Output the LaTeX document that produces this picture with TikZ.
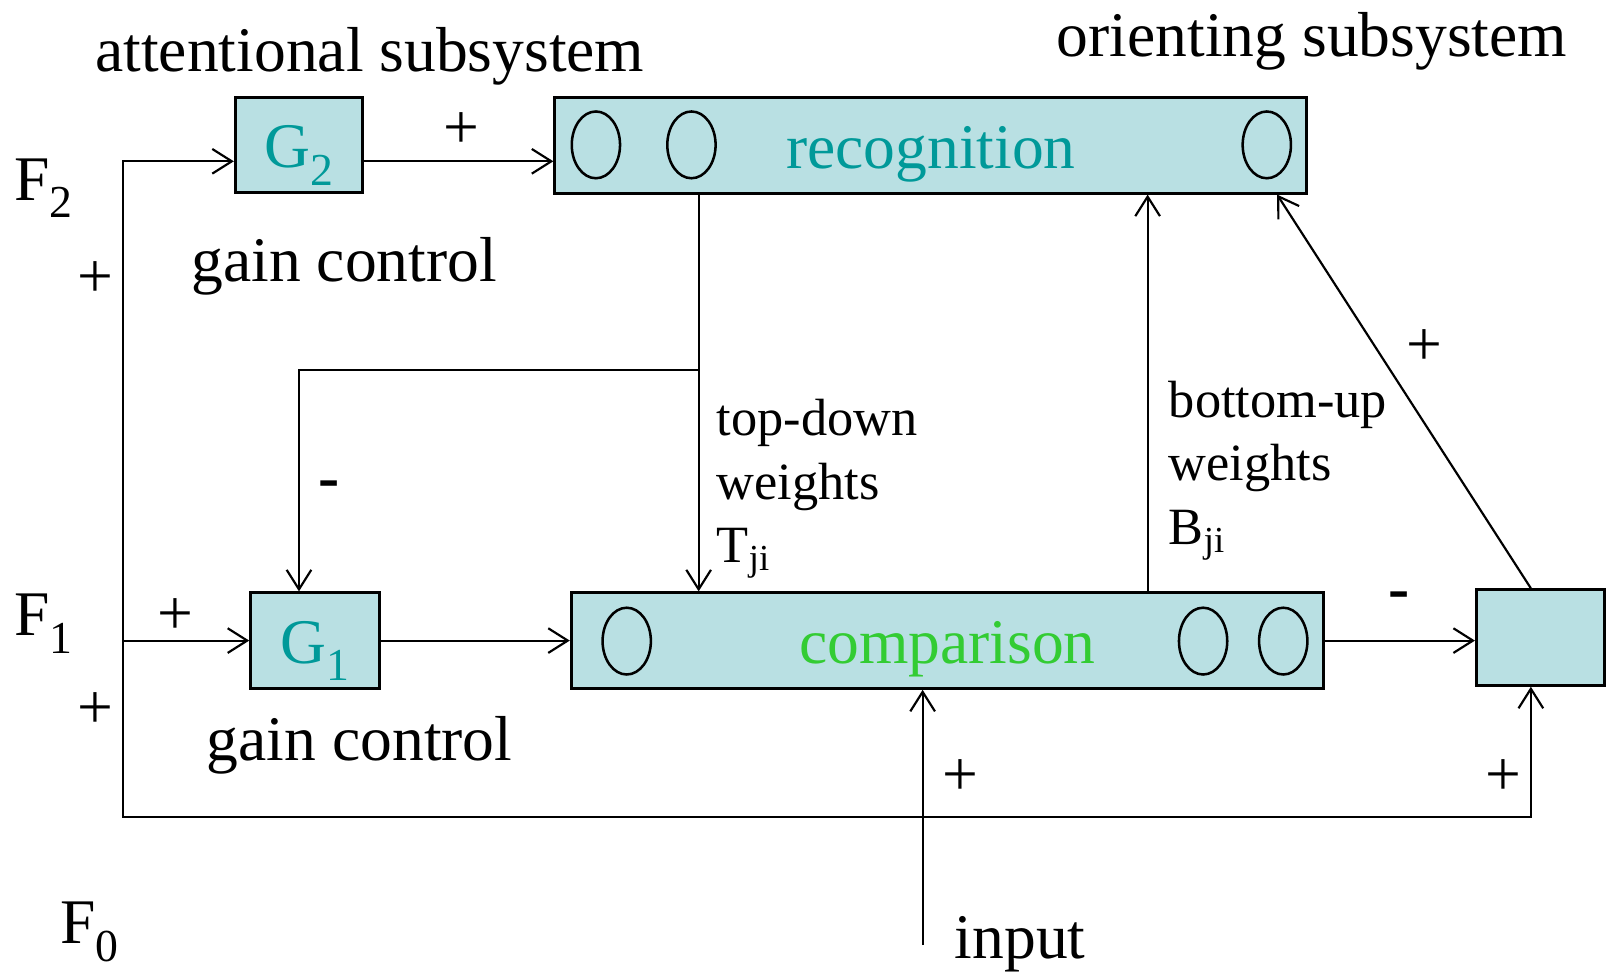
\documentclass[tikz,border=0pt]{standalone}
\usepackage{fontspec}
\setmainfont{Liberation Serif}
\usepackage{tikz}
\usetikzlibrary{arrows.meta,positioning}

\definecolor{boxfill}{RGB}{185,224,227}
\definecolor{tealtext}{RGB}{0,153,153}
\definecolor{greentext}{RGB}{51,204,51}
\newcommand{\bigtxt}{\fontsize{17.6}{21}\selectfont}
\newcommand{\smalltxt}{\fontsize{14.5}{17.6}\selectfont}
\newcommand{\lowsub}[1]{\raisebox{-0.27em}{\fontsize{0.72em}{0.72em}\selectfont #1}}

\tikzset{
	>={Straight Barb[length=1.9mm,width=2.4mm]},
	unitbox/.style={draw, line width=0.8pt, fill=boxfill, inner sep=0pt, font=\bigtxt, text height=6mm, text depth=1.5mm},
	wire/.style={line width=0.6pt},
	cell/.style={line width=0.7pt},
	lbl/.style={inner sep=0pt, font=\bigtxt},
	sml/.style={inner sep=0pt, font=\smalltxt, align=left, anchor=north west}
}

\begin{document}
\begin{tikzpicture}[x=0.1mm, y=-0.1mm]
	\useasboundingbox (0,0) rectangle (1568,949);

	\node[lbl] (attn) at (360,55) {attentional subsystem};
	\node[lbl] (orient) at (1277,40) {orienting subsystem};

	\node[unitbox, minimum width=12.4mm, minimum height=9.2mm, text=tealtext] (G2) at (291,141) {G\lowsub{2}};
	\node[unitbox, minimum width=73.2mm, minimum height=9.3mm, text=tealtext] (rec) at (906,141.5) {recognition};
	\node[unitbox, minimum width=12.5mm, minimum height=9.3mm, text=tealtext] (G1) at (306.5,623.5) {G\lowsub{1}};
	\node[unitbox, minimum width=73.2mm, minimum height=9.3mm, text=greentext] (cmp) at (922,623.5) {comparison};
	\node[unitbox, minimum width=12.5mm, minimum height=9.3mm] (ori) at (1499.5,620.5) {};

	\foreach \cx in {580,673,1233}
		\draw[cell] (\cx,141) ellipse [x radius=2.35mm, y radius=3.25mm];
	\foreach \cx in {610,1171,1249}
		\draw[cell] (\cx,624) ellipse [x radius=2.35mm, y radius=3.25mm];

	\node[lbl] (F2) at (42,183) {F\lowsub{2}};
	\node[lbl] (F1) at (42,607) {F\lowsub{1}};
	\node[lbl] (F0) at (87,907) {F\lowsub{0}};
	\node[lbl] (gc2) at (335,259) {gain control};
	\node[lbl] (gc1) at (350,725) {gain control};
	\node[lbl] (inplbl) at (993,919) {input};

	\node[sml] (tdw) at (697,388) {top-down\\weights\\T\textsubscript{ji}};
	\node[sml] (buw) at (1137,370) {bottom-up\\weights\\B\textsubscript{ji}};

	% plus and minus signs
	\node[lbl] (p1) at (449,127) {+};
	\node[lbl] (p2) at (93,272) {+};
	\node[lbl] (p3) at (171,600) {+};
	\node[lbl] (p4) at (93,692) {+};
	\node[lbl] (p5) at (1386,338) {+};
	\node[lbl] (p6) at (935,757) {+};
	\node[lbl] (p7) at (1463,757) {+};
	\node[lbl] (m1) at (320,477) {\textbf{-}};
	\node[lbl] (m2) at (1362,585) {\textbf{-}};

	\coordinate (f2in) at (120,157);
	\coordinate (f0c) at (120,795);
	\coordinate (orx) at (1490,795);
	\coordinate (td) at (680,360);
	\coordinate (gtd) at (291,360);
	\coordinate (bu) at (1117,400);
	\coordinate (diag) at (1243,300);
	\coordinate (inp) at (898,920);

	\draw[wire,<->] (f2in -| G2.west) -- (f2in) -- (f0c) -- (orx) -- (orx |- ori.south);
	\draw[wire,->] (f2in -| G2.east) -- (f2in -| rec.west);
	\draw[wire,->] (f2in |- G1.west) -- (G1.west);
	\draw[wire,->] (G1.east) -- (cmp.west);
	\draw[wire,->] (cmp.east) -- (cmp.east -| ori.west);
	\draw[wire,->] (td |- rec.south) -- (td |- cmp.north);
	\draw[wire,->] (td) -- (gtd) -- (gtd |- G1.north);
	\draw[wire,->] (bu |- cmp.north) -- (bu |- rec.south);
	\draw[wire,->] (orx |- ori.north) -- (diag |- rec.south);
	\draw[wire,->] (inp) -- (inp |- cmp.south);
\end{tikzpicture}
\end{document}
